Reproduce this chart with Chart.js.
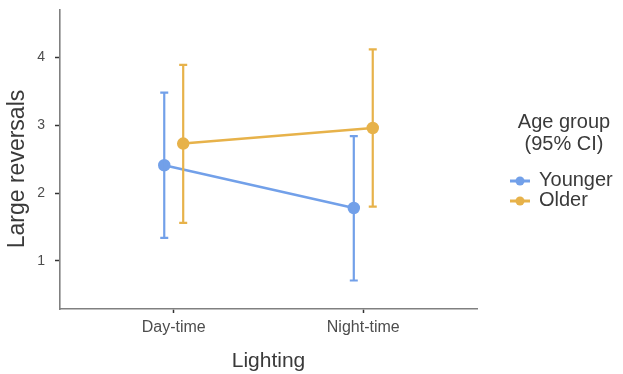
<!DOCTYPE html>
<html>
<head>
<meta charset="utf-8">
<script src="https://cdn.jsdelivr.net/npm/chart.js@4"></script>
<style>
  html, body { margin: 0; padding: 0; background: #fff; }
  #wrap { position: relative; width: 623px; height: 374px; }
</style>
</head>
<body>
<div id="wrap"><canvas id="chart" width="623" height="374"></canvas></div>
<script>
"use strict";

const LIGHTING = ["Day-time", "Night-time"];
const GROUPS = ["Younger", "Older"];
const YOUNGER_MEAN = [2.41, 1.78];
const YOUNGER_LOW = [1.34, 0.71];
const YOUNGER_HIGH = [3.48, 2.84];
const OLDER_MEAN = [2.73, 2.96];
const OLDER_LOW = [1.56, 1.80];
const OLDER_HIGH = [3.89, 4.12];
const Y_TICKS = [1, 2, 3, 4];
const DODGE = 0.05;

const BLUE = "#72a0e9";
const ORANGE = "#e7b24a";
const FONT = "'Liberation Sans', Arial, sans-serif";

function toPoints(means, offset) {
  return means.map((m, i) => ({ x: i + 1 + offset, y: m }));
}

// error bars drawn from the same data through the chart scales
const errorBarPlugin = {
  id: "errorBars",
  afterDatasetsDraw(c) {
    const { ctx, scales } = c;
    const groups = [
      { low: YOUNGER_LOW, high: YOUNGER_HIGH, off: -DODGE, color: BLUE },
      { low: OLDER_LOW, high: OLDER_HIGH, off: DODGE, color: ORANGE },
    ];
    ctx.save();
    ctx.lineWidth = 2.2;
    groups.forEach((g) => {
      ctx.strokeStyle = g.color;
      g.low.forEach((lo, i) => {
        const x = scales.x.getPixelForValue(i + 1 + g.off);
        const y1 = scales.y.getPixelForValue(lo);
        const y2 = scales.y.getPixelForValue(g.high[i]);
        ctx.beginPath();
        ctx.moveTo(x, y1);
        ctx.lineTo(x, y2);
        ctx.moveTo(x - 4, y1);
        ctx.lineTo(x + 4, y1);
        ctx.moveTo(x - 4, y2);
        ctx.lineTo(x + 4, y2);
        ctx.stroke();
      });
    });
    ctx.restore();
  },
};

// y title and legend (two-line title not supported by the built-in legend)
const annotatePlugin = {
  id: "annotate",
  afterDraw(c) {
    const { ctx } = c;
    ctx.save();
    ctx.fillStyle = "#3a3a3a";
    ctx.font = `23px ${FONT}`;
    ctx.translate(18, 169);
    ctx.rotate(-Math.PI / 2);
    ctx.textAlign = "center";
    ctx.textBaseline = "middle";
    ctx.fillText("Large reversals", 0, 0);
    ctx.restore();

    ctx.save();
    ctx.fillStyle = "#3a3a3a";
    ctx.font = `20px ${FONT}`;
    ctx.textAlign = "center";
    ctx.textBaseline = "alphabetic";
    ctx.fillText("Age group", 564, 128);
    ctx.fillText("(95% CI)", 564, 149.5);
    const colors = [BLUE, ORANGE];
    const rows = [181, 201];
    ctx.textAlign = "left";
    GROUPS.forEach((name, i) => {
      const y = rows[i];
      ctx.strokeStyle = colors[i];
      ctx.fillStyle = colors[i];
      ctx.lineWidth = 3;
      ctx.beginPath();
      ctx.moveTo(510, y);
      ctx.lineTo(530, y);
      ctx.stroke();
      ctx.beginPath();
      ctx.arc(520, y, 4.5, 0, Math.PI * 2);
      ctx.fill();
      ctx.fillStyle = "#3a3a3a";
      ctx.fillText(name, 539, y + 5);
    });
    ctx.restore();
  },
};

new Chart(document.getElementById("chart"), {
  type: "line",
  data: {
    datasets: [
      { label: GROUPS[0], data: toPoints(YOUNGER_MEAN, -DODGE), borderColor: BLUE, backgroundColor: BLUE, borderWidth: 2.5, pointRadius: 5, pointHoverRadius: 5, order: 1 },
      { label: GROUPS[1], data: toPoints(OLDER_MEAN, DODGE), borderColor: ORANGE, backgroundColor: ORANGE, borderWidth: 2.5, pointRadius: 5, pointHoverRadius: 5, order: 0 },
    ],
  },
  options: {
    responsive: false,
    animation: false,
    events: [],
    layout: { padding: { left: 0, right: 146, top: 10, bottom: 0 } },
    scales: {
      x: {
        type: "linear",
        min: 0.4,
        max: 2.6,
        afterBuildTicks: (s) => { s.ticks = LIGHTING.map((_, i) => ({ value: i + 1 })); },
        afterFit: (s) => { s.height = 65; },
        ticks: {
          callback: (v) => LIGHTING[v - 1],
          color: "#4d4d4d",
          font: { family: FONT, size: 16 },
          padding: 5,
          maxRotation: 0,
        },
        grid: { drawOnChartArea: false, drawTicks: true, tickLength: 4, tickColor: "#333", tickWidth: 1.5 },
        border: { display: true, color: "#808080", width: 1.6 },
        title: { display: true, text: "Lighting", color: "#3a3a3a", font: { family: FONT, size: 21 }, padding: { top: 0, bottom: 0 } },
      },
      y: {
        min: 0.29,
        max: 4.7,
        afterBuildTicks: (s) => { s.ticks = Y_TICKS.map((v) => ({ value: v })); },
        afterFit: (s) => { s.width = 60; s.paddingTop = 0; s.paddingBottom = 0; },
        ticks: { color: "#4d4d4d", font: { family: FONT, size: 14 }, padding: 10 },
        grid: { drawOnChartArea: false, drawTicks: true, tickLength: 5, tickColor: "#333", tickWidth: 1.5 },
        border: { display: true, color: "#808080", width: 1.6 },
      },
    },
    plugins: {
      legend: { display: false },
      tooltip: { enabled: false },
    },
  },
  plugins: [errorBarPlugin, annotatePlugin],
});
</script>
</body>
</html>
